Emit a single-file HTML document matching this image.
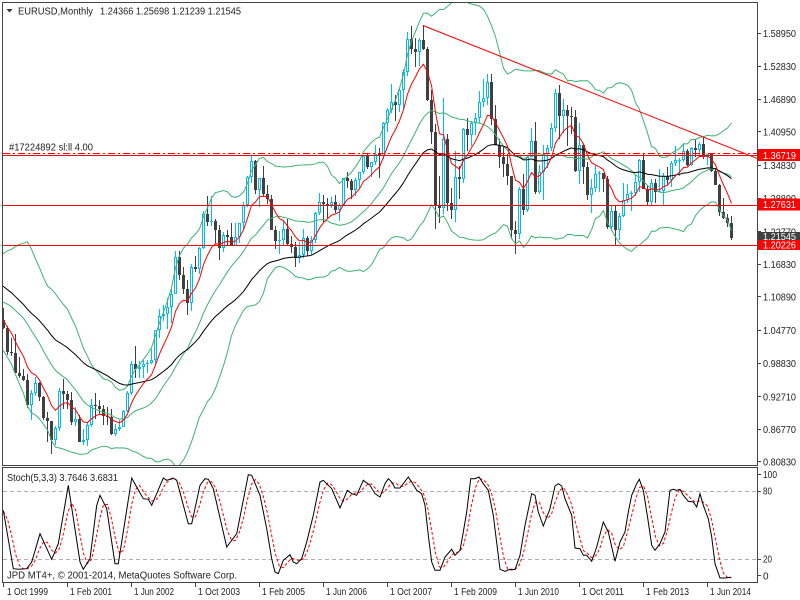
<!DOCTYPE html>
<html><head><meta charset="utf-8"><style>
html,body{margin:0;padding:0;background:#fff;}
svg{display:block;}
text{font-family:"Liberation Sans",sans-serif;font-size:10px;fill:#222;}
</style></head><body>
<svg id="s" width="800" height="600" xmlns="http://www.w3.org/2000/svg">
<defs>
<clipPath id="cm"><rect x="3" y="3" width="754" height="462"/></clipPath>
<clipPath id="cs"><rect x="3" y="468" width="754" height="114"/></clipPath>
</defs>
<rect width="800" height="600" fill="#fff"/>
<g id="main" clip-path="url(#cm)"></g>
<g clip-path="url(#cm)">
<line x1="3" y1="153.5" x2="757" y2="153.5" stroke="#ff0000" stroke-width="1" stroke-dasharray="7 3 2 3"/>
<line x1="3" y1="155.5" x2="757" y2="155.5" stroke="#ff0000" stroke-width="1"/>
<line x1="3" y1="205.5" x2="757" y2="205.5" stroke="#ff0000" stroke-width="1"/>
<line x1="3" y1="245.5" x2="757" y2="245.5" stroke="#ff0000" stroke-width="1"/>
<line x1="423" y1="25.5" x2="757" y2="158.4" stroke="#ff0000" stroke-width="1"/>
</g>
<!-- stoch levels -->
<line x1="3" y1="491.5" x2="757" y2="491.5" stroke="#b0b0b0" stroke-width="1" stroke-dasharray="4 3"/>
<line x1="3" y1="559.5" x2="757" y2="559.5" stroke="#b0b0b0" stroke-width="1" stroke-dasharray="4 3"/>
<g id="stoch" clip-path="url(#cs)"></g>
<!-- frames -->
<path d="M2.5 2.5 H757.5 V465.5 H2.5 Z" fill="none" stroke="#444" stroke-width="1"/>
<path d="M2.5 467.5 H757.5 V582.5 H2.5 Z" fill="none" stroke="#444" stroke-width="1"/>
<!-- header -->
<polygon points="6.5,9 12.5,9 9.5,12.5" fill="#333"/>
<text x="18" y="14.5" textLength="75" lengthAdjust="spacingAndGlyphs">EURUSD,Monthly</text>
<text x="100" y="14.5" textLength="141" lengthAdjust="spacingAndGlyphs">1.24366 1.25698 1.21239 1.21545</text>
<text x="9" y="150.5" textLength="84" lengthAdjust="spacingAndGlyphs">#17224892 sl:ll 4.00</text>
<text x="7" y="481" textLength="111" lengthAdjust="spacingAndGlyphs">Stoch(5,3,3) 3.7646 3.6831</text>
<text x="7" y="578.5" textLength="230" lengthAdjust="spacingAndGlyphs">JPD MT4+, © 2001-2014, MetaQuotes Software Corp.</text>
<!-- price axis -->
<g id="pax" stroke="#444" stroke-width="1">
<line x1="757" y1="33.5" x2="761" y2="33.5"/><line x1="757" y1="66.5" x2="761" y2="66.5"/>
<line x1="757" y1="99.5" x2="761" y2="99.5"/><line x1="757" y1="131.5" x2="761" y2="131.5"/>
<line x1="757" y1="165.5" x2="761" y2="165.5"/><line x1="757" y1="198.5" x2="761" y2="198.5"/>
<line x1="757" y1="231.5" x2="761" y2="231.5"/><line x1="757" y1="264.5" x2="761" y2="264.5"/>
<line x1="757" y1="296.5" x2="761" y2="296.5"/><line x1="757" y1="330.5" x2="761" y2="330.5"/>
<line x1="757" y1="363.5" x2="761" y2="363.5"/><line x1="757" y1="396.5" x2="761" y2="396.5"/>
<line x1="757" y1="429.5" x2="761" y2="429.5"/><line x1="757" y1="461.5" x2="761" y2="461.5"/>
<line x1="757" y1="474.5" x2="761" y2="474.5"/><line x1="757" y1="491.5" x2="761" y2="491.5"/>
<line x1="757" y1="559.5" x2="761" y2="559.5"/><line x1="757" y1="575.5" x2="761" y2="575.5"/>
</g>
<g>
<text x="763" y="37" textLength="33" lengthAdjust="spacingAndGlyphs">1.58950</text>
<text x="763" y="70" textLength="33" lengthAdjust="spacingAndGlyphs">1.52830</text>
<text x="763" y="103" textLength="33" lengthAdjust="spacingAndGlyphs">1.46890</text>
<text x="763" y="135.5" textLength="33" lengthAdjust="spacingAndGlyphs">1.40950</text>
<text x="763" y="169" textLength="33" lengthAdjust="spacingAndGlyphs">1.34830</text>
<text x="763" y="201.8" textLength="33" lengthAdjust="spacingAndGlyphs">1.28890</text>
<text x="763" y="235.3" textLength="33" lengthAdjust="spacingAndGlyphs">1.22770</text>
<text x="763" y="268" textLength="33" lengthAdjust="spacingAndGlyphs">1.16830</text>
<text x="763" y="300.6" textLength="33" lengthAdjust="spacingAndGlyphs">1.10890</text>
<text x="763" y="334.2" textLength="33" lengthAdjust="spacingAndGlyphs">1.04770</text>
<text x="763" y="366.8" textLength="33" lengthAdjust="spacingAndGlyphs">0.98830</text>
<text x="763" y="400.4" textLength="33" lengthAdjust="spacingAndGlyphs">0.92710</text>
<text x="763" y="433" textLength="33" lengthAdjust="spacingAndGlyphs">0.86770</text>
<text x="763" y="465.6" textLength="33" lengthAdjust="spacingAndGlyphs">0.80830</text>
<text x="763" y="478" textLength="14" lengthAdjust="spacingAndGlyphs">100</text>
<text x="763" y="494.7" textLength="9" lengthAdjust="spacingAndGlyphs">80</text>
<text x="763" y="562.7" textLength="9" lengthAdjust="spacingAndGlyphs">20</text>
<text x="763" y="579.3">0</text>
</g>
<!-- price labels boxes -->
<rect x="758" y="149" width="42" height="12" fill="#ff0000"/>
<text x="763" y="158.8" textLength="33" lengthAdjust="spacingAndGlyphs" style="fill:#fff">1.36719</text>
<rect x="758" y="198.5" width="42" height="12" fill="#ff0000"/>
<text x="763" y="208.2" textLength="33" lengthAdjust="spacingAndGlyphs" style="fill:#fff">1.27631</text>
<rect x="758" y="232" width="42" height="9" fill="#404040"/>
<text x="763" y="239.8" textLength="33" lengthAdjust="spacingAndGlyphs" style="fill:#fff">1.21545</text>
<rect x="758" y="240" width="42" height="10" fill="#ff0000"/>
<text x="763" y="248.6" textLength="33" lengthAdjust="spacingAndGlyphs" style="fill:#fff">1.20226</text>
<!-- date axis -->
<g stroke="#444" stroke-width="1">
<line x1="3.5" y1="582" x2="3.5" y2="587"/><line x1="67.5" y1="582" x2="67.5" y2="587"/>
<line x1="131.5" y1="582" x2="131.5" y2="587"/><line x1="195.5" y1="582" x2="195.5" y2="587"/>
<line x1="259.5" y1="582" x2="259.5" y2="587"/><line x1="323.5" y1="582" x2="323.5" y2="587"/>
<line x1="387.5" y1="582" x2="387.5" y2="587"/><line x1="451.5" y1="582" x2="451.5" y2="587"/>
<line x1="515.5" y1="582" x2="515.5" y2="587"/><line x1="579.5" y1="582" x2="579.5" y2="587"/>
<line x1="643.5" y1="582" x2="643.5" y2="587"/><line x1="707.5" y1="582" x2="707.5" y2="587"/>
</g>
<g>
<text x="7" y="595" textLength="41" lengthAdjust="spacingAndGlyphs">1 Oct 1999</text>
<text x="70" y="595" textLength="42" lengthAdjust="spacingAndGlyphs">1 Feb 2001</text>
<text x="134" y="595" textLength="40" lengthAdjust="spacingAndGlyphs">1 Jun 2002</text>
<text x="198" y="595" textLength="42" lengthAdjust="spacingAndGlyphs">1 Oct 2003</text>
<text x="262" y="595" textLength="43" lengthAdjust="spacingAndGlyphs">1 Feb 2005</text>
<text x="326" y="595" textLength="41" lengthAdjust="spacingAndGlyphs">1 Jun 2006</text>
<text x="390" y="595" textLength="42" lengthAdjust="spacingAndGlyphs">1 Oct 2007</text>
<text x="454" y="595" textLength="43" lengthAdjust="spacingAndGlyphs">1 Feb 2009</text>
<text x="518" y="595" textLength="41" lengthAdjust="spacingAndGlyphs">1 Jun 2010</text>
<text x="582" y="595" textLength="42" lengthAdjust="spacingAndGlyphs">1 Oct 2011</text>
<text x="646" y="595" textLength="43" lengthAdjust="spacingAndGlyphs">1 Feb 2013</text>
<text x="710" y="595" textLength="41" lengthAdjust="spacingAndGlyphs">1 Jun 2014</text>
</g>
</svg>
<script>
(function(){
var C=[1.27,1.26,1.25,1.24,1.25,1.25,1.27,1.28,1.26,1.26,1.25,1.25,
1.20,1.15,1.14,1.13,1.14,1.12,1.08,1.09,1.11,1.13,1.13,1.10,
1.08,1.09,1.08,1.10,1.11,1.10,1.105,1.125,1.18,1.175,1.16,1.167,
1.1371,1.0985,1.0765,1.0575,1.0430,1.0340,1.0695,1.0495,1.0675,1.0525,1.0080,1.0070,
0.9710,0.9645,0.9575,0.9130,0.9340,0.9525,0.9270,0.8890,0.8830,0.8490,0.8700,0.9385,
0.9320,0.9210,0.8805,0.8875,0.8455,0.8480,0.8760,0.9115,0.9110,0.9050,0.8920,0.8895,
0.8590,0.8690,0.8720,0.9020,0.9340,0.9865,0.9785,0.9810,0.9865,0.9880,0.9935,1.0490,
1.0745,1.0775,1.0910,1.1150,1.1820,1.1480,1.1230,1.0980,1.1640,1.1600,1.1985,1.2595,
1.2445,1.2480,1.2310,1.1975,1.2220,1.2180,1.2025,1.2180,1.2430,1.2770,1.3270,1.3570,
1.3040,1.3250,1.2960,1.2870,1.2300,1.2100,1.2130,1.2330,1.2050,1.1995,1.1790,1.1850,
1.2160,1.1925,1.2120,1.2625,1.2810,1.2790,1.2770,1.2810,1.2680,1.2760,1.3255,1.3195,
1.3030,1.3225,1.3355,1.3660,1.3450,1.3540,1.3690,1.3660,1.4265,1.4490,1.4640,1.4590,
1.4860,1.5190,1.5785,1.5610,1.5550,1.5760,1.5610,1.4680,1.4090,1.2740,1.2700,1.3970,
1.2800,1.2665,1.3280,1.3230,1.4150,1.4030,1.4250,1.4340,1.4640,1.4720,1.5000,1.4320,
1.3860,1.3630,1.3510,1.3300,1.2300,1.2230,1.3050,1.2680,1.3630,1.3920,1.3000,1.3370,
1.3690,1.3800,1.4160,1.4810,1.4380,1.4500,1.4390,1.4370,1.3390,1.3860,1.3450,1.2940,
1.3080,1.3330,1.3340,1.3240,1.2370,1.2660,1.2300,1.2570,1.2860,1.2970,1.2980,1.3190,
1.3580,1.3060,1.2820,1.3170,1.3000,1.3010,1.3300,1.3220,1.3520,1.3590,1.3590,1.3740,
1.3485,1.3805,1.3770,1.3870,1.3635,1.3690,1.3390,1.3130,1.2630,1.2525,1.24366,1.21545];
var H0=[1.1906,1.1410,1.1010,1.0920,1.0760,1.0510,1.0790,1.0820,1.0720,1.0890,1.0560,1.0335,
1.0415,0.9990,0.9785,0.9685,0.9390,0.9630,0.9540,0.9280,0.9000,0.8830,0.8745,0.9440,
0.9595,0.9380,0.9355,0.9090,0.8940,0.8680,0.8815,0.9235,0.9335,0.9210,0.9125,0.9080,
0.9040,0.8780,0.8840,0.9030,0.9380,0.9930,1.0190,0.9925,0.9960,0.9935,1.0145,1.0495,
1.0870,1.0935,1.1075,1.1230,1.1930,1.1930,1.1640,1.1390,1.1680,1.1830,1.2000,1.2650,
1.2930,1.2930,1.2500,1.2400,1.2280,1.2300,1.2440,1.2440,1.2440,1.2815,1.3300,1.3665,
1.3580,1.3260,1.3480,1.3125,1.2950,1.2380,1.2290,1.2480,1.2510,1.2190,1.2095,1.2095,
1.2325,1.2190,1.2200,1.2640,1.2980,1.2950,1.2890,1.2910,1.2940,1.2800,1.3240,1.3365,
1.3240,1.3250,1.3370,1.3680,1.3685,1.3550,1.3850,1.3800,1.4280,1.4530,1.4965,1.4760,
1.4900,1.5240,1.5905,1.6020,1.5810,1.5800,1.6038,1.5640,1.4865,1.4230,1.3300,1.4720,
1.4060,1.3080,1.3740,1.3475,1.4160,1.4340,1.4285,1.4445,1.4845,1.5060,1.5145,1.5140,
1.4580,1.3960,1.3820,1.3690,1.3300,1.2470,1.3100,1.3335,1.3670,1.4160,1.4280,1.3500,
1.3860,1.3860,1.4250,1.4880,1.4940,1.4700,1.4580,1.4550,1.4500,1.4250,1.3870,1.3550,
1.3230,1.3490,1.3390,1.3285,1.3285,1.2750,1.2750,1.2625,1.3170,1.3140,1.3010,1.3310,
1.3600,1.3710,1.3130,1.3240,1.3240,1.3415,1.3345,1.3450,1.3570,1.3830,1.3620,1.3895,
1.3775,1.3825,1.3965,1.3905,1.3993,1.3680,1.3700,1.3440,1.3145,1.2890,1.2600,1.25698];
var L0=[1.1300,1.0940,1.0700,1.0560,1.0410,1.0200,1.0120,1.0420,1.0270,1.0500,1.0040,1.0005,
0.9705,0.9610,0.9555,0.9070,0.8845,0.9280,0.9200,0.8845,0.8440,0.8228,0.8390,0.8650,
0.9050,0.9050,0.8755,0.8740,0.8460,0.8400,0.8380,0.8730,0.8870,0.8960,0.8750,0.8750,
0.8580,0.8560,0.8640,0.8740,0.9000,0.9300,0.9620,0.9620,0.9620,0.9700,0.9865,0.9860,
1.0335,1.0650,1.0500,1.0620,1.1135,1.1400,1.1140,1.0765,1.0840,1.1550,1.1500,1.1970,
1.2380,1.2375,1.2080,1.1760,1.1910,1.2020,1.2025,1.2010,1.2080,1.2300,1.2730,1.3170,
1.2955,1.2730,1.2910,1.2785,1.2300,1.1955,1.1870,1.2040,1.2010,1.1895,1.1640,1.1710,
1.1800,1.1830,1.1860,1.2070,1.2580,1.2460,1.2520,1.2700,1.2620,1.2480,1.2760,1.3080,
1.2865,1.2930,1.3070,1.3330,1.3420,1.3270,1.3500,1.3260,1.3600,1.4085,1.4435,1.4300,
1.4450,1.4500,1.5120,1.5510,1.5285,1.5300,1.5580,1.4660,1.3880,1.2330,1.2430,1.2600,
1.2660,1.2500,1.2455,1.2880,1.3165,1.3745,1.3830,1.4045,1.4260,1.4550,1.4580,1.4215,
1.3860,1.3440,1.3270,1.3120,1.2145,1.1876,1.2150,1.2590,1.2640,1.3700,1.2970,1.2970,
1.2860,1.3430,1.3750,1.4100,1.3970,1.4070,1.3840,1.4050,1.3360,1.3140,1.3140,1.2860,
1.2620,1.3000,1.3000,1.3000,1.2330,1.2290,1.2040,1.2130,1.2550,1.2800,1.2660,1.2930,
1.3000,1.3050,1.2750,1.2745,1.2795,1.3000,1.2755,1.3130,1.3100,1.3480,1.3295,1.3545,
1.3475,1.3475,1.3640,1.3670,1.3605,1.3500,1.3370,1.3150,1.2570,1.2500,1.2360,1.21239];
var N=C.length,O=[],H=[],L=[],i;
for(i=0;i<N;i++){O[i]=i?C[i-1]:C[i];}
O[N-1]=1.24366;
for(i=0;i<N;i++){var h,l;if(i<36){h=Math.max(O[i],C[i])+0.012;l=Math.min(O[i],C[i])-0.012;}else{h=H0[i-36];l=L0[i-36];}
H[i]=Math.max(h,O[i],C[i]);L[i]=Math.min(l,O[i],C[i]);}
function Y(p){return 33+(1.5895-p)*549.2;}
function X(i){return 3+4*(i-45);}
var s='';
var BULL='#00BBF5',BEAR='#404040';
for(i=44;i<N;i++){
 var x=X(i),bull=C[i]>=O[i],col=bull?BULL:BEAR;
 var yh=Math.round(Y(H[i])),yl=Math.round(Y(L[i])),yo=Y(O[i]),yc=Y(C[i]);
 var top=Math.round(Math.min(yo,yc)),bot=Math.round(Math.max(yo,yc));
 s+='<rect x="'+x+'" y="'+yh+'" width="1" height="'+Math.max(1,yl-yh)+'" fill="'+col+'"/>';
 var bh=Math.max(1,bot-top);
 s+='<rect x="'+(x-1)+'" y="'+top+'" width="3" height="'+bh+'" fill="'+col+'"/>';
 if(bull&&bh>2)s+='<rect x="'+x+'" y="'+(top+1)+'" width="1" height="'+(bh-2)+'" fill="#fff"/>';
}
var e8=[],e40=[],bu=[],bm=[],bl=[];
var a8=2/9,a40=2/41;
for(i=0;i<N;i++){
 e8[i]=i?e8[i-1]+a8*(C[i]-e8[i-1]):C[i];
 e40[i]=i?e40[i-1]+a40*(C[i]-e40[i-1]):C[i];
 if(i>=19){var sm=0,j;for(j=i-19;j<=i;j++)sm+=C[j];var m=sm/20,v=0;for(j=i-19;j<=i;j++)v+=(C[j]-m)*(C[j]-m);var sd=Math.sqrt(v/20);
 bm[i]=m;bu[i]=m+2*sd;bl[i]=m-2*sd;}
}
function pl(arr,col){var p=[];for(var k=44;k<N;k++){if(arr[k]==null)continue;p.push((X(k)+0.5).toFixed(1)+','+Y(arr[k]).toFixed(1));}
 return '<polyline points="'+p.join(' ')+'" fill="none" stroke="'+col+'" stroke-width="1"/>';}
var G='#3CB371';
s+=pl(bu,G)+pl(bm,G)+pl(bl,G)+pl(e40,'#000')+pl(e8,'#ff0000');
document.getElementById('main').innerHTML=s;
var K=[[3.3,510.3],[13.3,568.7],[18.3,569.3],[26.7,568.7],[31.7,562],[40,533.7],[51.7,559.3],[58.3,543.7],[68.3,485.3],[80,562],[83.3,569.3],[90,558.7],[96.7,505.3],[100,495.3],[106.7,508.7],[115,563.7],[118.3,563.7],[131.7,478],[136.7,487],[143.3,498.7],[148.3,499.3],[151.7,505.3],[163.3,478],[166.7,480.3],[173.3,478],[176.7,480.3],[188.3,523.7],[191.7,523.7],[200,485.3],[205,478.7],[208.3,479.3],[213.3,488.7],[226.7,547],[236.7,533.7],[248.3,474.7],[251.7,475.3],[260,495.3],[266.7,528.7],[271.7,558.7],[275,572],[278.3,573.7],[283.3,560.3],[290,554.7],[293.3,562],[296.7,563.7],[301.7,558.7],[306.7,542],[313.3,515.3],[320,482],[323.3,480.3],[326.7,483.7],[331.7,488.7],[340,508],[347.3,490.3],[351.7,493.7],[356.7,495.3],[363.3,480.3],[370,485.3],[375,493.7],[380,497],[385,483.7],[388.3,478.7],[391.7,482],[395,488],[400,488],[403.3,483.7],[408.3,477],[411.7,482],[416.7,490.3],[421.7,493.7],[425,505.3],[428.3,535.3],[431.7,562],[435,570.3],[440,570.3],[445,557],[451.7,549.3],[455,555.3],[460,550.3],[463.3,532],[466.7,512],[470.7,478.7],[475,478.7],[479,477],[483.3,483.7],[488.3,490.3],[493.3,515.3],[500,569.3],[505,571.3],[510,569.3],[515,569.5],[520,555.3],[525,525.3],[531.7,493.7],[535,495.3],[538.3,512],[543.3,526],[550,508.7],[555,486],[558.3,483.7],[561.7,486],[565,498.7],[571.7,515.3],[575,548],[580,548.7],[583.3,555.3],[586.7,555.3],[591.7,561.3],[596.7,547],[603.3,522],[608.3,532],[615,561.3],[620,542],[625,532],[628.3,512],[631.7,495.3],[636.7,483.7],[639.3,479.3],[643.3,490.3],[648.3,522],[651.7,545.3],[655,550.3],[660,543.7],[665,532],[670,490.3],[673.3,489.3],[676.7,490.3],[680,489.3],[683.3,495.3],[688.3,501.3],[693.3,502],[696.7,507],[700,493.7],[703.3,505.3],[708.3,518.7],[711.7,537],[715,563.7],[720,578],[725,578],[731,577.3]];
function interp(x){for(var j=1;j<K.length;j++){if(x<=K[j][0]){var a=K[j-1],b=K[j],t=(x-a[0])/(b[0]-a[0]);return a[1]+t*(b[1]-a[1]);}}return K[K.length-1][1];}
var ks=[],k;for(k=0;k<=182;k++)ks.push(interp(3.5+4*k));
var rp=[];for(k=0;k<=182;k++){var v3=(ks[k]+ks[Math.max(0,k-1)]+ks[Math.max(0,k-2)])/3;rp.push((3.5+4*k).toFixed(1)+','+v3.toFixed(1));}
var kp=K.map(function(p){return p[0]+','+p[1];}).join(' ');
var st='<polyline points="'+rp.join(' ')+'" fill="none" stroke="#ff0000" stroke-width="1" stroke-dasharray="3 2"/>';
st+='<polyline points="'+kp+'" fill="none" stroke="#000" stroke-width="1"/>';
document.getElementById('stoch').innerHTML=st;
})();
</script>
</body></html>
